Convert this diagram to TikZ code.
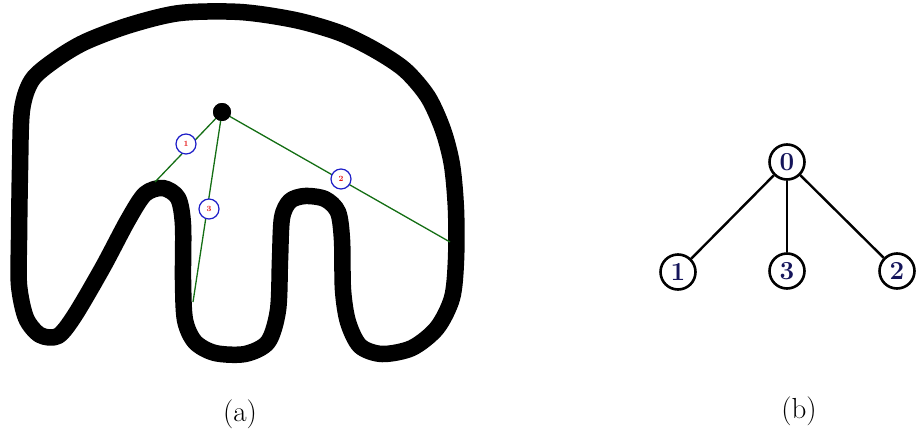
\documentclass[tikz,border=0pt]{standalone}
\begin{document}
\begin{tikzpicture}[x=1pt,y=-1pt,
  outline/.style={line width=16.5pt,line join=round,black},
  ray/.style={draw={rgb,255:red,20;green,110;blue,20},line width=1.3pt},
  mark1/.style={circle,draw={rgb,255:red,30;green,30;blue,200},line width=1.2pt,fill=white,minimum size=20pt,inner sep=0pt,text={rgb,255:red,230;green,20;blue,20},font=\bfseries\fontsize{8}{8}\selectfont},
  tnode/.style={circle,draw=black,line width=2.6pt,fill=white,minimum size=35pt,inner sep=0pt,text={rgb,255:red,20;green,20;blue,90},font=\bfseries\fontsize{26}{26}\selectfont},
  tedge/.style={draw=black,line width=2.4pt},
  captext/.style={font=\fontsize{29}{34}\selectfont}]
\useasboundingbox (0,0) rectangle (917,439);
% outline of the shape
\draw[outline] plot[smooth cycle,tension=0.5] coordinates {
(22,110) (32,80) (55,60) (85,42) (130,25) (180,13) (240,12) (295,20) (340,33) (375,50) (405,70) (428,97) (443,130) (452,165) (456,210) (456,260) (452,298) (437,328) (412,348) (382,354) (360,346) (348,322) (343,290) (342,240) (338,212) (325,199) (305,196) (290,201) (282,218) (280,260) (278,310) (268,342) (245,354) (215,353) (195,342) (185,320) (183,280) (183,225) (178,198) (163,188) (145,194) (128,220) (103,267) (75,315) (58,336) (40,335) (26,318) (19,285) (19,240) (20,170)};
% rays
\node[circle,fill=black,minimum size=18pt,inner sep=0pt] (src) at (222,112) {};
\coordinate (e1) at (155,182);
\coordinate (e3) at (193,302);
\coordinate (e2) at (450,242);
\draw[ray] (src.center) -- (e1);
\draw[ray] (src.center) -- (e3);
\draw[ray] (src.center) -- (e2);
\node[circle,fill=black,minimum size=18pt,inner sep=0pt] at (222,112) {};
\node[mark1] (m1) at (186,144) {1};
\node[mark1] (m3) at (209,209) {3};
\node[mark1] (m2) at (341,179) {2};
% tree
\node[tnode] (t0) at (787,162) {0};
\node[tnode] (t1) at (678,272) {1};
\node[tnode] (t3) at (787,271) {3};
\node[tnode] (t2) at (897,271) {2};
\draw[tedge] (t0) -- (t1);
\draw[tedge] (t0) -- (t3);
\draw[tedge] (t0) -- (t2);
% captions
\node[captext] (ca) at (240,414) {(a)};
\node[captext] (cb) at (799,411) {(b)};
\end{tikzpicture}
\end{document}
